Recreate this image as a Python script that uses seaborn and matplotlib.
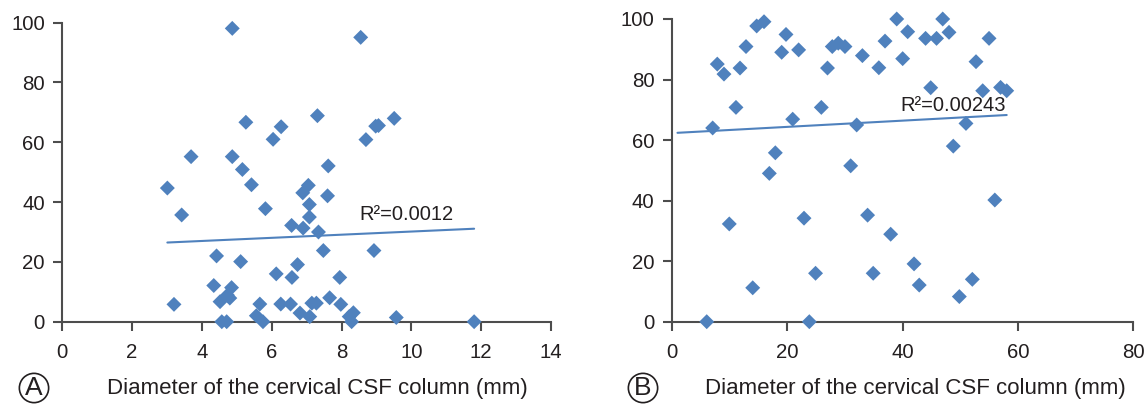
import numpy as np
import pandas as pd
import matplotlib
matplotlib.use("Agg")
import matplotlib.pyplot as plt
import seaborn as sns

# ---------------- data ----------------
a_x = [4.87, 8.55, 7.31, 9.51, 5.26, 6.27, 8.98, 9.06, 6.04, 8.70,
       3.69, 4.87, 7.62, 5.16, 5.42, 7.05, 3.01, 6.89, 7.60, 7.08,
       5.82, 3.42, 7.08, 6.57, 6.90, 7.34, 7.48, 8.93, 4.42, 5.11,
       6.74, 6.13, 6.58, 7.95, 4.34, 4.85, 4.73, 4.80, 4.52, 7.66,
       3.20, 5.66, 6.26, 6.54, 7.15, 7.28, 7.98, 6.81, 7.09, 8.34,
       8.22, 8.29, 5.56, 5.75, 4.57, 4.71, 9.57, 11.80]
a_y = [98.1, 95.1, 68.9, 68.0, 66.7, 65.2, 65.4, 65.6, 61.0, 60.9,
       55.2, 55.2, 52.1, 50.9, 45.8, 45.6, 44.7, 43.1, 42.1, 39.2,
       37.8, 35.7, 35.0, 32.2, 31.3, 30.0, 23.8, 23.8, 22.0, 20.1,
       19.1, 16.0, 14.8, 14.8, 12.1, 11.4, 8.9, 7.9, 6.7, 8.0,
       5.8, 5.9, 5.9, 5.9, 6.2, 6.2, 5.8, 2.9, 1.7, 3.0,
       1.7, 0.0, 2.0, 0.0, 0.0, 0.0, 1.4, 0.0]

b_x = [6.07, 7.1, 7.9, 9.06, 9.98, 11.14, 11.84, 12.88, 14.04, 14.73,
       16.0, 16.92, 17.96, 19.06, 19.81, 20.97, 22.0, 22.93, 23.85, 24.93,
       25.93, 27.0, 27.83, 28.87, 30.03, 31.02, 32.06, 33.05, 33.95, 34.92,
       35.9, 36.97, 37.95, 39.0, 40.03, 40.9, 42.0, 42.9, 44.0, 44.89,
       45.9, 46.97, 48.06, 48.8, 49.85, 51.0, 52.1, 52.74, 53.9, 55.0,
       56.0, 57.0, 58.06]
b_y = [0.0, 64.0, 85.1, 81.8, 32.3, 70.8, 83.8, 90.9, 11.2, 97.7,
       99.1, 49.0, 55.8, 89.0, 94.9, 66.9, 89.8, 34.2, 0.0, 16.0,
       70.8, 83.8, 90.9, 92.0, 90.9, 51.5, 65.0, 87.9, 35.2, 16.0,
       83.9, 92.7, 28.9, 100.0, 86.9, 95.8, 19.1, 12.1, 93.6, 77.3,
       93.6, 100.0, 95.6, 58.0, 8.3, 65.5, 14.0, 85.9, 76.3, 93.6,
       40.2, 77.4, 76.3]

# trend lines as shown (intercept, slope, x-start, x-end)
trend_a = [24.9, 0.525, 3.01, 11.80]
trend_b = [62.3, 0.103, 1.0, 58.06]

r2_a = "R\u00b2=0.0012"
r2_b = "R\u00b2=0.00243"

xticks_a = [0, 2, 4, 6, 8, 10, 12, 14]
xticks_b = [0, 20, 40, 60, 80]
yticks = [0, 20, 40, 60, 80, 100]
xlabel = "Diameter of the cervical CSF column (mm)"
panel_labels = ["A", "B"]

# ---------------- style ----------------
sns.set_theme(style="white")
plt.rcParams['font.family'] = ['Liberation Sans', 'DejaVu Sans']
TXT = "#231f20"
BLUE = "#4f81bd"
SPINE = "#4d4d4d"

fig = plt.figure(figsize=(11.47, 4.04), dpi=100)
W, H = 1147, 404
axA = fig.add_axes([62.3 / W, (H - 321.7) / H, 488.6 / W, 299.0 / H])
axB = fig.add_axes([671.7 / W, (H - 321.7) / H, 461.6 / W, 302.7 / H])

panels = [
    (axA, a_x, a_y, trend_a, r2_a, (9.85, 35.9), xticks_a, (0, 14), 0.522, panel_labels[0], 34),
    (axB, b_x, b_y, trend_b, r2_b, (48.75, 71.3), xticks_b, (0, 80), 0.527, panel_labels[1], 643),
]

for ax, xs, ys, tr, r2, r2pos, xt, xlim, labx, plab, circ_x in panels:
    df = pd.DataFrame({"x": xs, "y": ys})
    # trend line
    tx = np.array([tr[2], tr[3]])
    ax.plot(tx, tr[0] + tr[1] * tx, color=BLUE, lw=1.5, zorder=2)
    sns.scatterplot(data=df, x="x", y="y", ax=ax, marker="D", s=58,
                    color=BLUE, edgecolor="none", linewidth=0, zorder=4,
                    clip_on=False, legend=False)
    ax.text(r2pos[0], r2pos[1], r2, fontsize=14.5, color=TXT,
            ha="center", va="center", zorder=5)
    ax.set_xlim(*xlim)
    ax.set_ylim(0, 100)
    ax.set_xticks(xt)
    ax.set_yticks(yticks)
    for side in ["top", "right"]:
        ax.spines[side].set_visible(False)
    for side in ["left", "bottom"]:
        ax.spines[side].set_color(SPINE)
        ax.spines[side].set_linewidth(1.5)
        ax.spines[side].set_zorder(1)
    ax.tick_params(axis="both", which="major", direction="out", length=6.5,
                   width=1.5, color=SPINE, labelsize=14.7, labelcolor=TXT,
                   bottom=True, left=True, pad=6)
    ax.tick_params(axis="x", pad=8.5)
    ax.set_xlabel(xlabel, fontsize=16, color=TXT)
    ax.set_ylabel("")
    ax.xaxis.set_label_coords(labx, -0.222)
    ax.xaxis.label.set_va("center")
    ax.grid(False)
    fig.text(circ_x / W, (H - 388) / H, plab, fontsize=19, color=TXT,
             ha="center", va="center",
             bbox=dict(boxstyle="circle,pad=0.1", fc="white", ec=TXT, lw=1.2))

fig.savefig("out.png", dpi=100)
